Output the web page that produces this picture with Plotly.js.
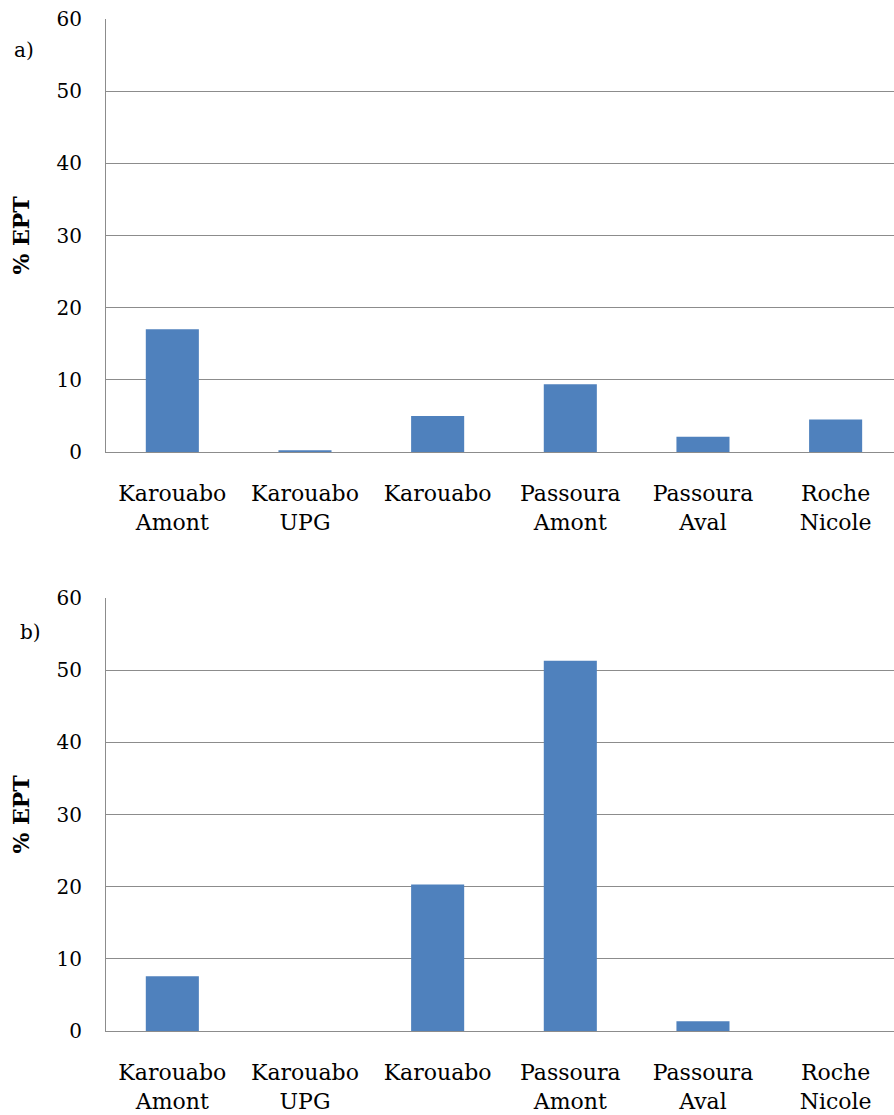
<!DOCTYPE html>
<html>
<head>
<meta charset="utf-8">
<script src="https://cdn.plot.ly/plotly-3.0.1.min.js"></script>
<style>html,body{margin:0;padding:0;background:#fff;}#chart{width:894px;height:1115px;}</style>
</head>
<body>
<div id="chart"></div>
<script>
var categories = ["Karouabo<br>Amont", "Karouabo<br>UPG", "Karouabo", "Passoura<br>Amont", "Passoura<br>Aval", "Roche<br>Nicole"];
var valuesA = [17.0, 0.25, 5.0, 9.4, 2.1, 4.5];
var valuesB = [7.6, 0, 20.3, 51.3, 1.35, 0];
var yTitle = "% EPT";
var panelLabels = ["a)", "b)"];

var barColor = "#4F81BD";
var gridColor = "#8c8c8c";
var serif = "DejaVu Serif, Liberation Serif, serif";

var traces = [
  {type: "bar", x: categories, y: valuesA, xaxis: "x", yaxis: "y", marker: {color: barColor}, hoverinfo: "none"},
  {type: "bar", x: categories, y: valuesB, xaxis: "x2", yaxis: "y2", marker: {color: barColor}, hoverinfo: "none"}
];

function xAxis(anchor) {
  return {
    anchor: anchor, domain: [0, 1], range: [-0.5, 5.44], showgrid: false,
    showline: true, linecolor: gridColor, linewidth: 1, ticks: "",
    tickfont: {family: serif, size: 22, color: "#000"}, ticklabelstandoff: 22,
    automargin: false, fixedrange: true, zeroline: false
  };
}
function yAxis(anchor, domain) {
  return {
    anchor: anchor, domain: domain, range: [0, 60], dtick: 10, tick0: 0,
    showgrid: true, gridcolor: gridColor, gridwidth: 1,
    showline: true, linecolor: gridColor, linewidth: 1, ticks: "",
    zeroline: false,
    tickfont: {family: serif, size: 20, color: "#000"}, ticklabelstandoff: 19,
    title: {text: yTitle, font: {family: serif, size: 22, color: "#000", weight: "bold"}, standoff: 20},
    automargin: false, fixedrange: true
  };
}

var H = 1115;
var layout = {
  width: 894, height: H,
  margin: {l: 106, r: 0, t: 0, b: 0},
  paper_bgcolor: "#fff", plot_bgcolor: "#fff",
  showlegend: false, bargap: 0.6,
  xaxis: xAxis("y"),
  yaxis: yAxis("x", [1 - 452/H, 1 - 19/H]),
  xaxis2: xAxis("y2"),
  yaxis2: yAxis("x2", [1 - 1031/H, 1 - 598/H]),
  annotations: [
    {text: panelLabels[0], xref: "paper", yref: "paper", x: -106/788 + 24/788, y: 1 - 50/H, xanchor: "center", yanchor: "middle", showarrow: false, font: {family: serif, size: 20, color: "#000"}},
    {text: panelLabels[1], xref: "paper", yref: "paper", x: -106/788 + 30/788, y: 1 - 632/H, xanchor: "center", yanchor: "middle", showarrow: false, font: {family: serif, size: 20, color: "#000"}}
  ]
};

Plotly.newPlot("chart", traces, layout, {staticPlot: true});
</script>
</body>
</html>
